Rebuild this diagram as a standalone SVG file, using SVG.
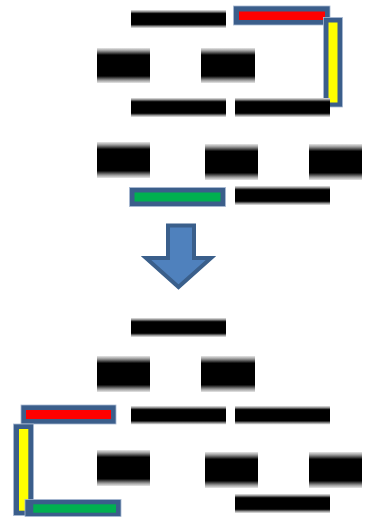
<svg xmlns="http://www.w3.org/2000/svg" width="366" height="517" viewBox="0 0 366 517">
<defs>
<linearGradient id="blur" x1="0" y1="0" x2="0" y2="1">
<stop offset="0" stop-color="#e6e6e6"/>
<stop offset="0.08" stop-color="#9a9a9a"/>
<stop offset="0.2" stop-color="#000"/>
<stop offset="0.8" stop-color="#000"/>
<stop offset="0.92" stop-color="#9a9a9a"/>
<stop offset="1" stop-color="#e6e6e6"/>
</linearGradient>
</defs>
<style>
.bk{fill:url(#blur)}
.frame{fill:#3b5e8b;stroke:#a9bad3;stroke-width:0.8}
.red{fill:#ff0000}
.yel{fill:#ffff00}
.grn{fill:#00b050}
.arrow{fill:#4f81bd;stroke:#3a5f8b;stroke-width:4;stroke-linejoin:miter}
</style>
<rect width="366" height="517" fill="#fff"/>
<!-- top diagram -->
<g id="top-bar1"><rect class="bk" x="131" y="10" width="95" height="18"/></g>
<g id="top-red"><rect class="frame" x="233.5" y="6" width="96.5" height="19"/><rect class="red" x="239" y="11.5" width="86" height="8.5"/></g>
<g id="top-yellow"><rect class="frame" x="323.5" y="17.5" width="19" height="89.5"/><rect class="yel" x="328.5" y="22.5" width="9" height="80"/></g>
<g id="top-block1"><rect class="bk" x="97" y="48" width="53" height="35"/></g>
<g id="top-block2"><rect class="bk" x="201" y="48" width="54" height="35"/></g>
<g id="top-bar2"><rect class="bk" x="131" y="98" width="95" height="19"/></g>
<g id="top-bar3"><rect class="bk" x="235" y="98" width="95" height="19"/></g>
<g id="top-block3"><rect class="bk" x="97" y="142" width="53" height="36"/></g>
<g id="top-block4"><rect class="bk" x="205" y="144" width="53" height="36"/></g>
<g id="top-block5"><rect class="bk" x="309" y="144" width="53" height="36"/></g>
<g id="top-green"><rect class="frame" x="129.5" y="187.5" width="96" height="19"/><rect class="grn" x="134.5" y="192.5" width="86" height="9"/></g>
<g id="top-bar4"><rect class="bk" x="235" y="186" width="95" height="19"/></g>
<!-- connector -->
<g id="connectors">
<polygon class="arrow" points="168,225.5 194,225.5 194,258 211,258 178.5,287 146,258 168,258"/>
</g>
<!-- bottom diagram -->
<g id="bot-bar1"><rect class="bk" x="131" y="318" width="95" height="19"/></g>
<g id="bot-block1"><rect class="bk" x="97" y="356" width="53" height="36"/></g>
<g id="bot-block2"><rect class="bk" x="201" y="356" width="54" height="36"/></g>
<g id="bot-red"><rect class="frame" x="21" y="405" width="95" height="19"/><rect class="red" x="26" y="410" width="85" height="9"/></g>
<g id="bot-bar2"><rect class="bk" x="131" y="406" width="95" height="18.5"/></g>
<g id="bot-bar3"><rect class="bk" x="235" y="406" width="95" height="18.5"/></g>
<g id="bot-yellow"><rect class="frame" x="13.5" y="424" width="20" height="91.5"/><rect class="yel" x="19" y="429" width="9.3" height="81.7"/></g>
<g id="bot-green"><rect class="frame" x="25" y="499.5" width="96" height="17"/><rect class="grn" x="33.3" y="504.3" width="82.7" height="8.4"/></g>
<g id="bot-block3"><rect class="bk" x="97" y="450" width="53" height="36"/></g>
<g id="bot-block4"><rect class="bk" x="205" y="452" width="53" height="36"/></g>
<g id="bot-block5"><rect class="bk" x="309" y="452" width="53" height="36"/></g>
<g id="bot-bar4"><rect class="bk" x="235" y="494" width="95" height="19"/></g>
</svg>
